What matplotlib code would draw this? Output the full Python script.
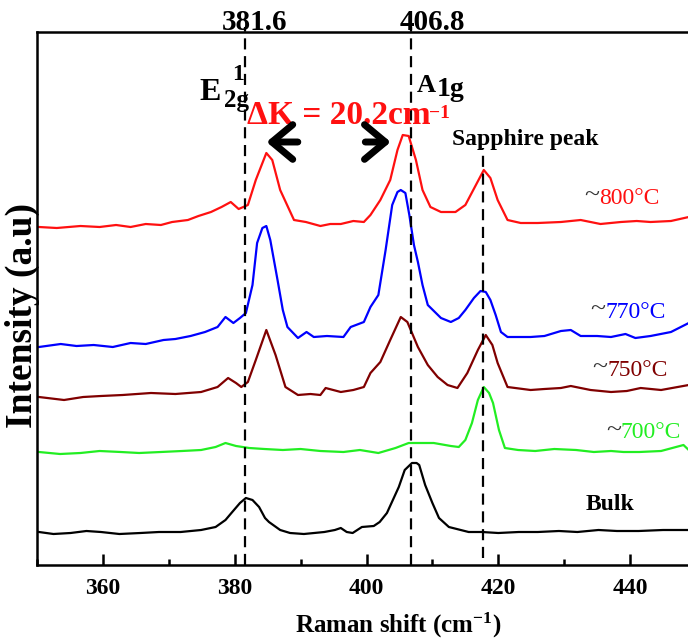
import matplotlib
matplotlib.use("Agg")
import matplotlib.pyplot as plt
from matplotlib.ticker import MultipleLocator

plt.rcParams['font.family'] = ['Liberation Serif', 'DejaVu Serif']
plt.rcParams['font.weight'] = 'bold'
plt.rcParams['mathtext.fontset'] = 'custom'
plt.rcParams['mathtext.rm'] = 'Liberation Serif:bold'
plt.rcParams['mathtext.default'] = 'rm'

# Raman spectra (intensity in a.u., curves already offset as in the figure)
x_800 = [350.3, 353.0, 356.6, 359.5, 362.0, 364.2, 366.5, 368.8, 370.5, 372.9, 374.5, 376.4,
         378.0, 379.4, 380.6, 382.0, 383.2, 384.8, 385.7, 386.9, 389.0, 390.8, 393.0, 394.5,
         396.1, 398.0, 399.6, 400.6, 402.1, 403.6, 404.7, 405.5, 406.4, 407.5, 408.5, 409.7,
         411.3, 413.5, 415.0, 416.6, 417.8, 418.8, 419.9, 421.4, 423.4, 426.0, 429.5, 432.5,
         435.5, 438.6, 441.0, 443.1, 446.2, 448.9]
y_800 = [338, 337, 339, 338, 340, 338, 341, 340, 343, 345, 349, 353,
         358, 363, 356, 360, 385, 412, 405, 375, 345, 343, 339, 341,
         341, 344, 343, 350, 365, 385, 415, 430, 429, 405, 375, 358,
         353, 353, 360, 380, 395, 387, 365, 345, 342, 342, 343, 345,
         341, 343, 344, 343, 344, 348]

x_770 = [350.3, 353.6, 356.0, 358.6, 361.5, 364.2, 366.5, 369.2, 371.0, 373.3, 375.5, 377.4,
         378.6, 379.8, 380.8, 381.7, 382.7, 383.4, 384.2, 384.8, 385.4, 386.5, 387.3, 388.0,
         389.6, 390.9, 392.0, 394.0, 396.5, 397.6, 399.6, 400.6, 401.8, 402.9, 403.9, 404.7,
         405.2, 405.9, 406.5, 407.2, 407.8, 408.5, 409.3, 411.3, 412.8, 414.0, 415.0, 416.3,
         417.3, 418.1, 418.8, 419.6, 420.4, 421.4, 424.9, 427.0, 429.5, 431.0, 432.5, 435.0,
         437.1, 439.3, 440.8, 443.1, 446.2, 448.9]
y_770 = [218, 221, 219, 220, 218, 222, 221, 225, 226, 229, 233, 238,
         248, 242, 247, 252, 280, 322, 337, 339, 325, 285, 255, 238,
         227, 233, 228, 229, 228, 238, 243, 258, 270, 315, 360, 373,
         375, 372, 350, 320, 303, 280, 260, 247, 243, 247, 255, 267,
         274, 273, 265, 250, 233, 228, 228, 229, 234, 235, 229, 229,
         228, 231, 227, 229, 233, 242]

x_750 = [350.3, 354.1, 357.0, 359.7, 363.0, 367.3, 371.0, 374.9, 377.4, 379.0, 380.2, 381.0,
         382.0, 383.2, 384.8, 386.2, 387.7, 389.6, 391.5, 393.0, 393.8, 396.1, 398.0, 399.6,
         400.6, 402.1, 403.6, 405.2, 406.2, 407.8, 409.3, 410.8, 412.3, 413.8, 415.3, 416.9,
         418.1, 419.1, 419.9, 421.4, 424.9, 427.0, 429.5, 431.0, 434.0, 437.1, 439.5, 441.6,
         444.7, 448.9]
y_750 = [168, 165, 168, 169, 170, 172, 171, 173, 178, 187, 182, 178,
         183, 205, 235, 210, 178, 170, 171, 170, 177, 173, 175, 178,
         192, 203, 225, 248, 243, 218, 200, 188, 180, 177, 192, 215,
         230, 220, 202, 178, 175, 176, 177, 179, 175, 173, 174, 177,
         175, 180]

x_700 = [350.3, 353.5, 356.6, 359.5, 362.7, 365.5, 368.8, 372.0, 374.9, 377.1, 378.6, 380.2,
         382.2, 384.5, 387.3, 390.0, 393.0, 396.5, 399.0, 401.8, 404.4, 406.4, 410.2, 412.8,
         414.0, 415.0, 416.0, 416.9, 417.8, 418.6, 419.2, 420.1, 421.0, 423.0, 425.6, 428.5,
         431.8, 434.5, 437.1, 439.0, 441.4, 444.7, 448.1, 448.9]
y_700 = [113, 111, 112, 114, 113, 112, 113, 114, 115, 118, 122, 119,
         117, 116, 115, 116, 114, 113, 115, 112, 117, 122, 122, 119,
         118, 125, 142, 165, 178, 172, 162, 135, 117, 115, 114, 116,
         115, 113, 114, 113, 113, 114, 120, 115]

x_bulk = [350.3, 352.5, 355.1, 357.5, 359.7, 362.5, 365.7, 368.5, 371.8, 374.9, 377.1, 378.6,
          379.5, 380.8, 381.7, 382.7, 383.7, 384.6, 385.2, 386.9, 388.4, 390.5, 393.6, 395.2,
          396.1, 397.0, 397.9, 399.3, 401.1, 402.0, 403.1, 404.0, 404.9, 405.8, 406.9, 407.6,
          408.0, 408.9, 410.0, 411.0, 412.5, 415.5, 417.5, 420.0, 423.1, 426.0, 429.2, 432.0,
          435.2, 438.0, 441.3, 445.0, 448.9]
y_bulk = [33, 31, 32, 34, 33, 31, 32, 33, 33, 35, 38, 45,
          52, 62, 67, 65, 58, 47, 43, 35, 32, 31, 33, 35,
          37, 33, 32, 38, 39, 43, 52, 65, 78, 95, 102, 102,
          100, 80, 62, 47, 38, 33, 33, 32, 33, 33, 34, 33,
          35, 34, 34, 35, 35]

peak_lines = [381.6, 406.8]
sapphire = 417.7

fig = plt.figure(figsize=(6.88, 6.44), dpi=100)
ax = fig.add_axes([37 / 688, 1 - 565 / 644, 659 / 688, 533 / 644])

ax.plot(x_800, y_800, color='#ff1010', lw=1.6)
ax.plot(x_770, y_770, color='#0000ff', lw=1.6)
ax.plot(x_750, y_750, color='#800000', lw=1.6)
ax.plot(x_700, y_700, color='#22ee22', lw=1.6)
ax.plot(x_bulk, y_bulk, color='black', lw=1.6)

for xv in peak_lines:
    ax.plot([xv, xv], [0, 538], color='black', lw=1.6, ls=(0, (5, 3)), clip_on=False)
ax.plot([sapphire, sapphire], [7, 417], color='black', lw=1.6, ls=(0, (5, 3)))

ax.set_xlim(350, 450)
ax.set_ylim(0, 533)
ax.set_yticks([])
ax.xaxis.set_major_locator(MultipleLocator(20))
ax.xaxis.set_minor_locator(MultipleLocator(10))
ax.tick_params(axis='x', which='major', direction='in', length=8, width=1.8, labelsize=17, pad=9)
ax.tick_params(axis='x', which='minor', direction='in', length=4, width=1.8)
ax.spines['right'].set_visible(False)
for s in ['left', 'bottom', 'top']:
    ax.spines[s].set_linewidth(1.8)

# top peak positions
ax.text(383.0, 543, '381.6', fontsize=21, ha='center', va='center', clip_on=False)
ax.text(410.0, 543, '406.8', fontsize=21, ha='center', va='center', clip_on=False)

# mode labels
ax.text(374.6, 473, 'E', fontsize=23, ha='left', va='center')
ax.text(379.6, 490, '1', fontsize=17, ha='left', va='center')
ax.text(378.4, 464, '2g', fontsize=18, ha='left', va='center')
ax.text(407.6, 480, 'A', fontsize=19, ha='left', va='center')
ax.text(410.6, 475, '1g', fontsize=20, ha='left', va='center')

ax.text(395.8, 450, 'ΔK = 20.2cm', fontsize=24, color='#ff1010', ha='center', va='center')
ax.text(411.0, 452, '\u22121', fontsize=14, color='#ff1010', ha='center', va='center')
ax.annotate('', xy=(384.4, 423), xytext=(390.0, 423),
            arrowprops=dict(arrowstyle='->, head_length=0.6, head_width=0.5', lw=5,
                            color='black', mutation_scale=25))
ax.annotate('', xy=(404.1, 423), xytext=(399.4, 423),
            arrowprops=dict(arrowstyle='->, head_length=0.6, head_width=0.5', lw=5,
                            color='black', mutation_scale=25))
ax.text(424.1, 426, 'Sapphire peak', fontsize=17, ha='center', va='center')

# temperature labels
labels = ['800°C', '770°C', '750°C', '700°C']
label_colors = ['#ff1010', '#0000ff', '#800000', '#22ee22']
label_x = [435.3, 436.2, 436.5, 438.6]
label_y = [367, 253, 195, 132]
for t, c, lx, ly in zip(labels, label_colors, label_x, label_y):
    ax.text(lx, ly + 2, '~', fontsize=20, fontweight='normal', color='#333333', ha='right', va='center', clip_on=False)
    ax.text(lx, ly, t, fontsize=17, fontweight='normal', color=c, ha='left', va='center', clip_on=False)
ax.text(433.2, 60, 'Bulk', fontsize=17, ha='left', va='center')

fig.text(398 / 688, 1 - 625 / 644, 'Raman shift (cm$^{-1}$)', fontsize=18, ha='center', va='center')
fig.text(22 / 688, 1 - 316 / 644, 'Intensity (a.u)', fontsize=27, rotation=90, ha='center', va='center')

fig.savefig('out.png', dpi=100)
